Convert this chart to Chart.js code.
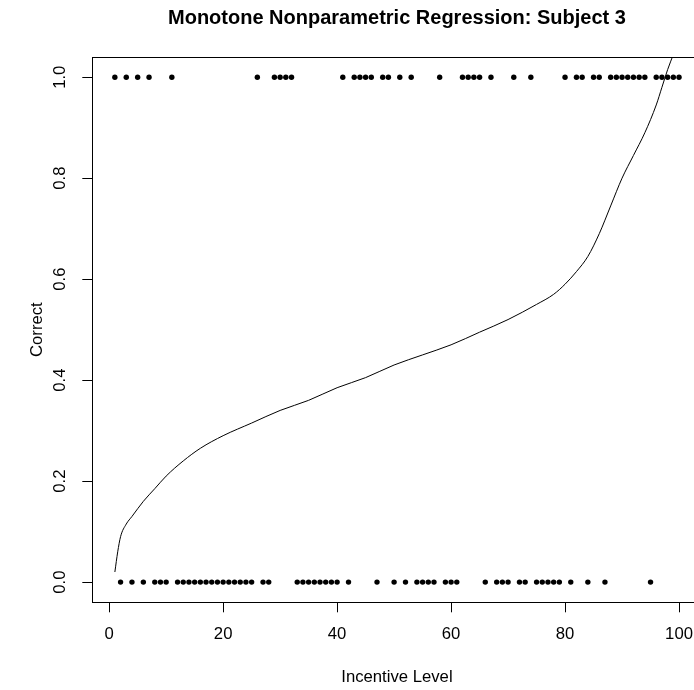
<!DOCTYPE html>
<html>
<head>
<meta charset="utf-8">
<title>Monotone Nonparametric Regression: Subject 3</title>
<script src="https://cdn.jsdelivr.net/npm/chart.js@4.4.1/dist/chart.umd.min.js"></script>
<style>
  html, body { margin: 0; padding: 0; background: #fff; overflow: hidden; }
  #wrap { width: 694px; height: 690px; overflow: hidden; }
  canvas { display: block; }
</style>
</head>
<body>
<div id="wrap"><canvas id="chart" width="760" height="690"></canvas></div>
<script>
// incentive levels answered correctly (plotted at 1) and incorrectly (plotted at 0)
const correctLevels = [1, 3, 5, 7, 11, 26, 29, 30, 31, 32, 41, 43, 44, 45, 46, 48, 49, 51, 53, 58,
  62, 63, 64, 65, 67, 71, 74, 80, 82, 83, 85, 86, 88, 89, 90, 91, 92, 93, 94, 96, 97, 98, 99, 100];
const wrongLevels = [2, 4, 6, 8, 9, 10, 12, 13, 14, 15, 16, 17, 18, 19, 20, 21, 22, 23, 24, 25, 27, 28,
  33, 34, 35, 36, 37, 38, 39, 40, 42, 47, 50, 52, 54, 55, 56, 57, 59, 60, 61, 66, 68, 69, 70, 72, 73,
  75, 76, 77, 78, 79, 81, 84, 87, 95];

// monotone fit
const fitLevels = [1, 1.5, 2, 3, 4, 6, 8, 10, 13, 16, 20, 25, 30, 35, 40, 45, 50, 55, 60, 65, 70, 75,
  78, 80, 82, 84, 86, 88, 90, 92, 94, 96, 97, 98, 99, 100];
const fitValues = [0.02, 0.06, 0.09, 0.115, 0.13, 0.16, 0.185, 0.21, 0.24, 0.265, 0.29, 0.315, 0.34,
  0.36, 0.385, 0.405, 0.43, 0.45, 0.47, 0.495, 0.52, 0.55, 0.57, 0.59, 0.615, 0.645, 0.69, 0.745, 0.8,
  0.845, 0.89, 0.945, 0.98, 1.015, 1.045, 1.075];

const xTicks = [0, 20, 40, 60, 80, 100];
const yTicks = [0, 0.2, 0.4, 0.6, 0.8, 1.0];

const black = '#000';
const family = "'Liberation Sans', Arial, Helvetica, sans-serif";
const axisFont = { family: family, size: 16.7 };
const tickGrid = { drawOnChartArea: false, drawTicks: true, tickLength: 10, color: black, lineWidth: 1 };
const frame = { display: true, color: black, width: 1 };

new Chart(document.getElementById('chart'), {
  type: 'scatter',
  data: {
    datasets: [
      {
        label: 'Correct',
        data: correctLevels.map(x => ({ x: x, y: 1 })),
        pointRadius: 2.7, pointBackgroundColor: black, pointBorderWidth: 0
      },
      {
        label: 'Incorrect',
        data: wrongLevels.map(x => ({ x: x, y: 0 })),
        pointRadius: 2.7, pointBackgroundColor: black, pointBorderWidth: 0
      },
      {
        type: 'line',
        label: 'Monotone fit',
        data: fitLevels.map((x, i) => ({ x: x, y: fitValues[i] })),
        borderColor: black, borderWidth: 1, pointRadius: 0,
        cubicInterpolationMode: 'monotone', fill: false
      }
    ]
  },
  options: {
    responsive: false,
    animation: false,
    layout: { padding: { left: 0, top: 0, bottom: 0, right: 58.4 } },
    plugins: {
      legend: { display: false },
      tooltip: { enabled: false },
      title: { display: false }
    },
    scales: {
      x: {
        type: 'linear', position: 'bottom', min: -2.96, max: 103.96,
        afterBuildTicks: s => { s.ticks = xTicks.map(v => ({ value: v })); },
        afterFit: s => { s.height = 87.7; },
        ticks: { color: black, font: axisFont, padding: 11.7, maxRotation: 0, autoSkip: false },
        grid: tickGrid,
        border: frame,
        title: { display: true, text: 'Incentive Level', color: black, font: axisFont, padding: { top: 0, bottom: 3 } }
      },
      x2: {
        type: 'linear', position: 'top', min: -2.96, max: 103.96,
        afterFit: s => { s.height = 57; },
        ticks: { display: false },
        grid: { display: false, drawTicks: false },
        border: frame,
        title: {
          display: true, text: 'Monotone Nonparametric Regression: Subject 3', color: black,
          font: { family: family, size: 20, weight: 'bold' }, padding: { top: 6, bottom: 0 }
        }
      },
      y: {
        type: 'linear', position: 'left', min: -0.04, max: 1.04,
        afterBuildTicks: s => { s.ticks = yTicks.map(v => ({ value: v })); },
        afterFit: s => { s.width = 92.3; },
        ticks: {
          color: black, font: axisFont, padding: 9.9, minRotation: 90, maxRotation: 90,
          crossAlign: 'center', autoSkip: false, callback: v => v.toFixed(1)
        },
        grid: tickGrid,
        border: frame,
        title: { display: true, text: 'Correct', color: black, font: axisFont, padding: { top: 27.5, bottom: 0 } }
      }
    }
  }
});
</script>
</body>
</html>
